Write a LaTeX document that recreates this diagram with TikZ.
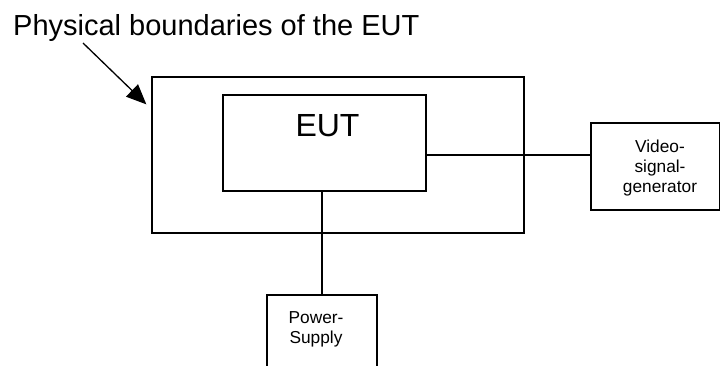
\documentclass[tikz,border=0pt]{standalone}
\usepackage{fontspec}
\setmainfont{Liberation Sans}
\usetikzlibrary{arrows.meta}
\begin{document}
\begin{tikzpicture}[x=1pt,y=-1pt,
  box/.style={draw=black,line width=1.3pt,rectangle,inner sep=0pt},
  conn/.style={draw=black,line width=1.3pt},
  small/.style={font=\fontsize{17.3}{20}\selectfont,align=center,inner sep=0pt}]
\useasboundingbox (0,0) rectangle (720,365);
\node[box,minimum width=372pt,minimum height=156pt] (outer) at (338,155) {};
\node[box,minimum width=203pt,minimum height=96pt] (inner) at (324.5,143) {};
\node[box,minimum width=128.5pt,minimum height=87pt] (video) at (655.25,166.5) {};
\node[box,minimum width=110pt,minimum height=80pt] (power) at (322,335) {};
\node[anchor=base,inner sep=0pt,font=\fontsize{32}{37}\selectfont] (eut) at (327.5,136) {EUT};
\node[small,anchor=north] (vtext) at (660,139.5) {Video-\\signal-\\generator};
\node[small,anchor=north] (ptext) at (316,311) {Power-\\Supply};
\node[anchor=base west,inner sep=0pt,font=\fontsize{29}{34}\selectfont] (title) at (13,35) {Physical boundaries of the EUT};
\coordinate (astart) at (83,43);
\draw[conn] ([yshift=-12pt]inner.east) -- ([yshift=-12pt]inner.east -| video.west);
\draw[conn] (power.north |- inner.south) -- (power.north);
\draw[line width=1.3pt,-{Triangle[length=20pt,width=17pt]}] (astart) -- ([xshift=-5pt,yshift=-28pt]outer.north west);
\end{tikzpicture}
\end{document}
